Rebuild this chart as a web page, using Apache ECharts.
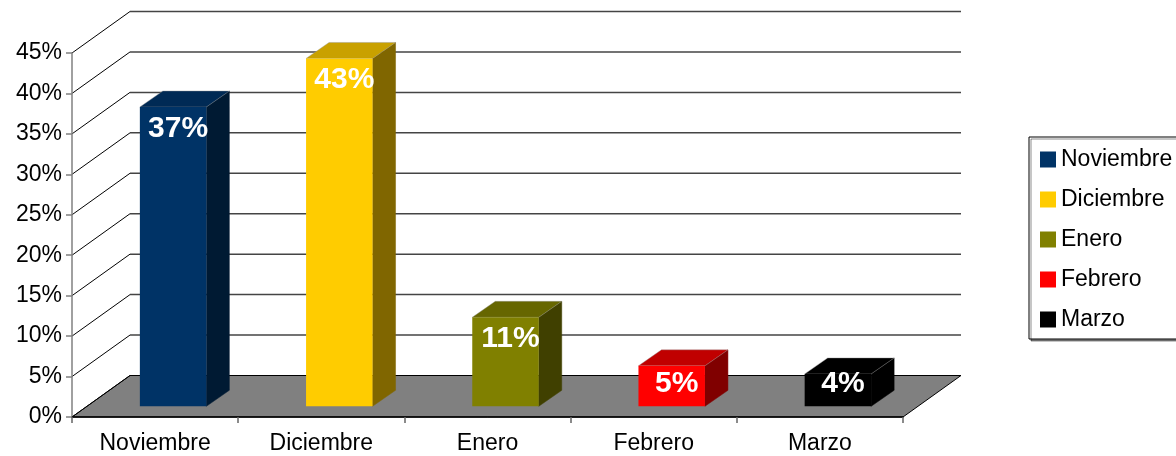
<!DOCTYPE html>
<html>
<head>
<meta charset="utf-8">
<script src="https://cdn.jsdelivr.net/npm/echarts@6/dist/echarts.min.js"></script>
<style>
  html, body { margin: 0; padding: 0; background: #fff; }
  #chart { width: 1176px; height: 456px; }
</style>
</head>
<body>
<div id="chart"></div>
<script>
// Monthly share, one 3D column per month
const categories = ['Noviembre', 'Diciembre', 'Enero', 'Febrero', 'Marzo'];
const values = [37, 43, 11, 5, 4];
const gridValues = [0, 5, 10, 15, 20, 25, 30, 35, 40, 45];

// Column colours: front face, top face, side face
const faceColors = ['#003366', '#ffcc00', '#808000', '#ff0000', '#000000'];
const topColors  = ['#002a55', '#c9a100', '#666600', '#c00000', '#000000'];
const sideColors = ['#001a33', '#806600', '#404000', '#800000', '#000000'];

// Projection of the chart depth
const WALL_DX = 58, WALL_DY = -41.5;   // floor / side wall depth
const BAR_DX = 23, BAR_DY = -16;       // column depth
const BAR_SHIFT_X = 18, BAR_SHIFT_Y = -10.7; // column placed inside the floor
const FONT = 'Liberation Sans, Arial, sans-serif';
const TEXT_SIZE = 23;

function renderFloor(params, api) {
  const cs = params.coordSys;
  const y = api.coord([0, 0])[1];
  const x0 = cs.x, x1 = cs.x + cs.width;
  return {
    type: 'polygon',
    shape: { points: [[x0, y], [x1, y], [x1 + WALL_DX, y + WALL_DY], [x0 + WALL_DX, y + WALL_DY]] },
    style: { fill: '#808080', stroke: '#000', lineWidth: 1 }
  };
}

function renderGridLine(params, api) {
  const cs = params.coordSys;
  const v = api.value(1);
  const y = api.coord([0, v])[1];
  const x0 = cs.x, x1 = cs.x + cs.width;
  return {
    type: 'group',
    children: [
      { type: 'line', shape: { x1: x0, y1: y, x2: x0 + WALL_DX, y2: y + WALL_DY },
        style: { stroke: '#000', lineWidth: 1 } },
      { type: 'line', shape: { x1: x0 + WALL_DX, y1: y + WALL_DY, x2: x1 + WALL_DX, y2: y + WALL_DY },
        style: { stroke: v === 0 ? '#000' : '#444', lineWidth: v === 0 ? 1 : 1.5 } }
    ]
  };
}

function makeBarRenderer(k) {
  return function (params, api) {
    const i = api.value(0), v = api.value(1);
    const base = api.coord([i, 0]);
    const topPt = api.coord([i, v]);
    const band = api.size([1, 0])[0];
    const w = band * 0.4;
    const cx = base[0] + BAR_SHIFT_X;
    const L = cx - w / 2, R = cx + w / 2;
    const B = base[1] + BAR_SHIFT_Y, T = topPt[1] + BAR_SHIFT_Y;
    const edge = 'rgba(150,150,150,0.5)';
    const labelY = Math.min(T + 21.5, B - 23);
    return {
      type: 'group',
      children: [
        { type: 'polygon', shape: { points: [[R, T], [R + BAR_DX, T + BAR_DY], [R + BAR_DX, B + BAR_DY], [R, B]] },
          style: { fill: sideColors[k], stroke: sideColors[k], lineWidth: 0.5 } },
        { type: 'polygon', shape: { points: [[L, T], [R, T], [R + BAR_DX, T + BAR_DY], [L + BAR_DX, T + BAR_DY]] },
          style: { fill: topColors[k], stroke: edge, lineWidth: 0.8 } },
        { type: 'rect', shape: { x: L, y: T, width: w, height: B - T },
          style: { fill: faceColors[k] } },
        { type: 'text', x: cx + 5, y: labelY,
          style: { text: v + '%', fill: '#fff', font: 'bold 30px ' + FONT, align: 'center', verticalAlign: 'middle' } }
      ]
    };
  };
}

const barSeries = categories.map((name, k) => ({
  type: 'custom',
  name: name,
  z: 3,
  itemStyle: { color: faceColors[k] },
  renderItem: makeBarRenderer(k),
  encode: { x: 0, y: 1 },
  data: [[k, values[k]]]
}));

const chart = echarts.init(document.getElementById('chart'), null, { renderer: 'canvas' });
chart.setOption({
  animation: false,
  backgroundColor: '#fff',
  textStyle: { fontFamily: FONT },
  grid: { left: 72, top: 53, width: 831, height: 364, outerBoundsMode: 'none', containLabel: false },
  legend: {
    orient: 'vertical',
    left: 1029, top: 137,
    padding: [11, 22, 8, 11],
    itemWidth: 16, itemHeight: 16, itemGap: 17,
    icon: 'rect',
    borderColor: '#000', borderWidth: 1,
    backgroundColor: '#fff',
    shadowColor: 'rgba(0,0,0,0.45)', shadowOffsetX: 2, shadowOffsetY: 2, shadowBlur: 0,
    textStyle: { fontSize: TEXT_SIZE, color: '#000', fontFamily: FONT, lineHeight: 23 },
    data: categories
  },
  xAxis: {
    type: 'category',
    data: categories,
    z: 5,
    axisLine: { show: true, lineStyle: { color: '#000', width: 1.5 } },
    axisTick: { show: true, length: 6, lineStyle: { color: '#666', width: 1.5 } },
    axisLabel: { margin: 15, fontSize: TEXT_SIZE, color: '#000', fontFamily: FONT },
    splitLine: { show: false }
  },
  yAxis: {
    type: 'value',
    min: 0, max: 45, interval: 5,
    z: 5,
    axisLine: { show: true, lineStyle: { color: '#808080', width: 1.5 } },
    axisTick: { show: true, length: 6, lineStyle: { color: '#808080', width: 1.5 } },
    axisLabel: { margin: 10, fontSize: TEXT_SIZE, color: '#000', fontFamily: FONT, formatter: '{value}%' },
    splitLine: { show: false }
  },
  series: [
    {
      type: 'custom', name: 'floor', z: 1, silent: true,
      renderItem: renderFloor, encode: { x: 0, y: 1 }, data: [[0, 0]]
    },
    {
      type: 'custom', name: 'walls', z: 1, silent: true,
      renderItem: renderGridLine, encode: { x: 0, y: 1 },
      data: gridValues.map(v => [0, v])
    }
  ].concat(barSeries)
});
</script>
</body>
</html>
